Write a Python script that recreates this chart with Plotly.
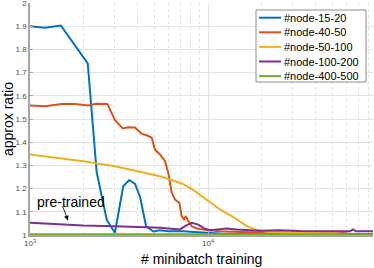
import plotly.graph_objects as go
import math

# ---------------- data ----------------
names = ["#node-15-20", "#node-40-50", "#node-50-100", "#node-100-200", "#node-400-500"]
colors = ["#0072BD", "#D95319", "#EDB120", "#7E2F8E", "#77AC30"]

x_15_20 = [1000, 1210, 1490, 2110, 2370, 2700, 3000, 3340, 3610, 3890, 4150, 4490, 4930,
           5370, 5980, 7260, 9750, 11700, 17200, 32900, 84500]
y_15_20 = [1.900, 1.893, 1.903, 1.740, 1.270, 1.065, 1.010, 1.210, 1.237, 1.220, 1.165, 1.037, 1.015,
           1.020, 1.016, 1.016, 1.010, 1.006, 1.005, 1.004, 1.004]

x_40_50 = [1000, 1214, 1507, 1789, 2126, 2370, 2719, 3003, 3318, 3566, 3890, 4242, 4524, 4828,
           5038, 5375, 5733, 5984, 6253, 6526, 6901, 7115, 7333, 7494, 7751, 8097, 8640, 9833,
           11680, 17220, 32880, 60150]
y_40_50 = [1.558, 1.555, 1.565, 1.565, 1.558, 1.566, 1.565, 1.495, 1.459, 1.464, 1.463, 1.436, 1.430,
           1.419, 1.368, 1.347, 1.318, 1.268, 1.182, 1.153, 1.139, 1.081, 1.067, 1.081, 1.059, 1.038,
           1.028, 1.021, 1.016, 1.012, 1.010, 1.008]

x_50_100 = [1000, 1986, 3003, 4365, 5370, 6120, 7240, 8450, 9860, 11670, 13800, 16550, 18370,
            21430, 28900, 55200]
y_50_100 = [1.347, 1.318, 1.296, 1.270, 1.253, 1.239, 1.220, 1.189, 1.150, 1.110, 1.078, 1.038, 1.024,
            1.013, 1.010, 1.008]

x_100_200 = [1000, 1436, 1986, 3003, 4365, 5370, 6966, 7430, 8110, 8820, 9620, 10260, 12740, 14490,
             19590, 25000, 32890, 45000, 62800, 65300, 67800, 84500]
y_100_200 = [1.053, 1.045, 1.041, 1.038, 1.035, 1.031, 1.024, 1.038, 1.053, 1.045, 1.027, 1.021, 1.028,
             1.024, 1.018, 1.020, 1.017, 1.018, 1.016, 1.024, 1.016, 1.016]

x_400_500 = [1000, 3000, 10000, 30000, 84500]
y_400_500 = [1.003, 1.003, 1.003, 1.003, 1.003]

series_x = [x_15_20, x_40_50, x_50_100, x_100_200, x_400_500]
series_y = [y_15_20, y_40_50, y_50_100, y_100_200, y_400_500]

y_ticks = [1.0, 1.1, 1.2, 1.3, 1.4, 1.5, 1.6, 1.7, 1.8, 1.9, 2.0]
y_tick_labels = ["1", "1.1", "1.2", "1.3", "1.4", "1.5", "1.6", "1.7", "1.8", "1.9", "2"]
x_ticks = [1000, 10000]
x_tick_labels = ["10<sup>3</sup>", "10<sup>4</sup>"]
x_minor = [m * d for d in (1000, 10000) for m in range(2, 10)]

annot_text = "pre-trained"
annot_tip_x, annot_tip_y = 1635, 1.0625

# ---------------- layout geometry ----------------
W, H = 374, 268
ML, MR, MT, MB = 30, 1, 3, 33
PW, PH = W - ML - MR, H - MT - MB
FONT = "Liberation Sans, Arial, Helvetica, sans-serif"


def px(p):
    return (p - ML) / PW


def py(q):
    return (H - MB - q) / PH


fig = go.Figure()
for name, c, xs, ys in zip(names, colors, series_x, series_y):
    fig.add_trace(go.Scatter(x=xs, y=ys, mode="lines", name=name,
                             line=dict(color=c, width=2), showlegend=False))

# manual legend (compact, MATLAB-like)
fig.add_shape(type="rect", xref="paper", yref="paper",
              x0=px(256), x1=px(366), y0=py(82), y1=py(10),
              line=dict(color="#8c8c8c", width=1), fillcolor="white", layer="above")
for i, (name, c) in enumerate(zip(names, colors)):
    yy = 17.7 + 14.6 * i
    fig.add_shape(type="line", xref="paper", yref="paper",
                  x0=px(259), x1=px(281), y0=py(yy), y1=py(yy),
                  line=dict(color=c, width=2), layer="above")
    fig.add_annotation(xref="paper", yref="paper", x=px(282), y=py(yy),
                       text=name, showarrow=False, xanchor="left", yanchor="middle",
                       font=dict(family=FONT, size=11, color="#000000"))

# pre-trained annotation
fig.add_annotation(x=math.log10(1700), y=1.144, xref="x", yref="y", text=annot_text,
                   showarrow=False, font=dict(family=FONT, size=14, color="#000000"))
fig.add_annotation(x=math.log10(annot_tip_x), y=annot_tip_y, xref="x", yref="y", text="",
                   showarrow=True, ax=-6, ay=-16, arrowhead=2, arrowsize=1.2,
                   arrowwidth=0.8, arrowcolor="#000000", standoff=0)

# axis titles placed as paper annotations
fig.add_annotation(xref="paper", yref="paper", x=px((ML + W - MR) / 2), y=py(259),
                   text="# minibatch training", showarrow=False, xanchor="center", yanchor="middle",
                   font=dict(family=FONT, size=14, color="#000000"))
fig.add_annotation(xref="paper", yref="paper", x=px(8), y=py(119),
                   text="approx ratio", showarrow=False, textangle=-90,
                   xanchor="center", yanchor="middle",
                   font=dict(family=FONT, size=14, color="#000000"))

fig.update_layout(
    width=W, height=H,
    margin=dict(l=ML, r=MR, t=MT, b=MB, autoexpand=False),
    paper_bgcolor="white", plot_bgcolor="white",
    font=dict(family=FONT, size=8, color="#333333"),
    showlegend=False,
)
fig.update_xaxes(
    type="log", range=[3, 3 + PW / 178.0], automargin=False,
    tickvals=x_ticks, ticktext=x_tick_labels,
    tickfont=dict(size=8, color="#4d4d4d"),
    showgrid=True, gridcolor="#e3e3e3", gridwidth=1,
    minor=dict(tickvals=x_minor, showgrid=True, gridcolor="#e0e0e0", griddash="dot", gridwidth=1,
               ticks=""),
    showline=True, linecolor="#a6a6a6", linewidth=1.5,
    ticks="inside", ticklen=3, tickcolor="#a6a6a6",
    zeroline=False,
)
fig.update_yaxes(
    range=[1, 2], automargin=False, ticklabeloverflow="allow",
    tickvals=y_ticks, ticktext=y_tick_labels,
    tickfont=dict(size=8, color="#4d4d4d"),
    showgrid=True, gridcolor="#e3e3e3", gridwidth=1,
    showline=True, linecolor="#a6a6a6", linewidth=1.5,
    ticks="inside", ticklen=3, tickcolor="#a6a6a6",
    zeroline=False,
)

fig.write_html("out.html", config={"displayModeBar": False},
               post_script="document.body.style.margin='0';document.body.style.padding='0';")
